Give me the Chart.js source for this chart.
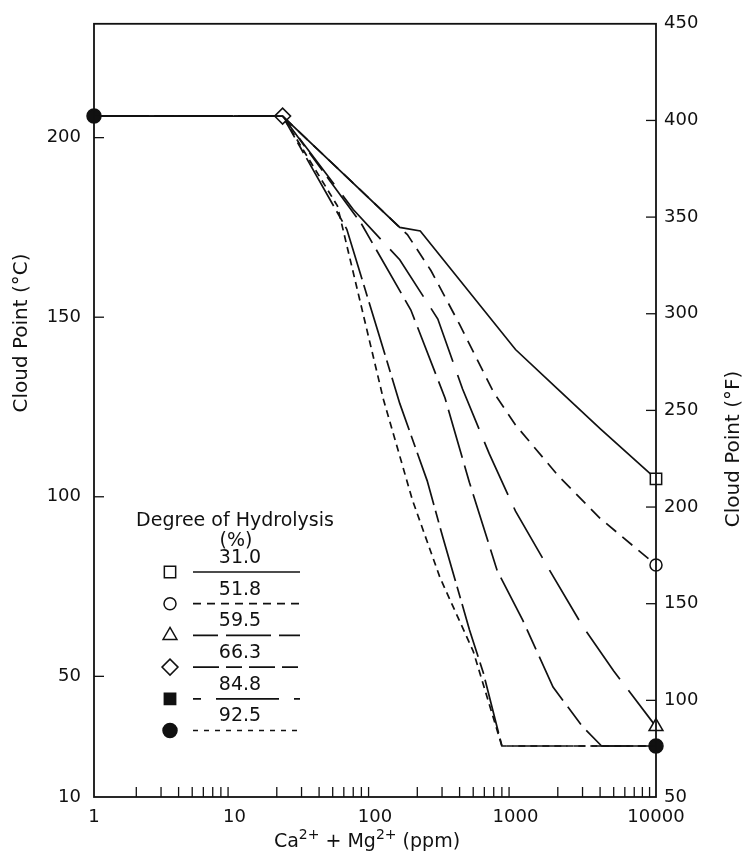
<!DOCTYPE html>
<html><head><meta charset="utf-8">
<script src="https://cdn.jsdelivr.net/npm/chart.js@4.4.1/dist/chart.umd.min.js"></script>
<style>html,body{margin:0;padding:0;background:#fff;}canvas{display:block;}</style>
</head><body>
<canvas id="c" width="747" height="857" style="width:747px;height:857px"></canvas>
<script>
// ---- data (x: Ca2+ + Mg2+ ppm, y: cloud point °C) ----
const hydrolysisLabels = ['31.0', '51.8', '59.5', '66.3', '84.8', '92.5'];

const ppm31 = [1, 22, 150, 210, 1000, 2000, 4000, 10000];
const cp31  = [206, 206, 175, 174, 141, 130, 119, 105];

const ppm52 = [1, 22, 170, 250, 400, 700, 1000, 2000, 4000, 10000];
const cp52  = [206, 206, 173, 163, 148, 129, 120, 106, 94, 81];

const ppm60 = [1, 22, 70, 150, 280, 420, 650, 1000, 1750, 3000, 5000, 10000];
const cp60  = [206, 206, 180, 166, 149.5, 130, 112, 96, 79.5, 64, 51.5, 36];

const ppm66 = [1, 22, 80, 180, 315, 470, 740, 1130, 1850, 3000, 4100, 10000];
const cp66  = [206, 206, 176, 152, 127.5, 104, 79.5, 65.5, 47, 36, 30.6, 30.6];

const ppm85 = [1, 22, 63, 105, 150, 235, 305, 470, 590, 800, 10000];
const cp85  = [206, 206, 174.5, 146, 126, 104.5, 88.5, 63, 51, 30.6, 30.6];

const ppm93 = [1, 22, 54, 115, 185, 290, 500, 800, 10000];
const cp93  = [206, 206, 181, 127, 99, 77.5, 57, 30.6, 30.6];

const xTickLabels = [1, 10, 100, 1000, 10000];
const cTickLabels = [10, 50, 100, 150, 200];
const fTickLabels = [50, 100, 150, 200, 250, 300, 350, 400, 450];

// ---- styling ----
const FONT = "'DejaVu Sans', 'Liberation Sans', sans-serif";
const INK = '#111';
const C_MIN = 16.4, C_MAX = 231.7;

const series = [
  {label: hydrolysisLabels[0], x: ppm31, y: cp31, dash: [], legendDash: [], style: 'rect', r: 8, filled: false, marks: [ppm31.length - 1]},
  {label: hydrolysisLabels[1], x: ppm52, y: cp52, dash: [13, 8], legendDash: [8, 6], style: 'circle', r: 6, filled: false, marks: [ppm52.length - 1]},
  {label: hydrolysisLabels[2], x: ppm60, y: cp60, dash: [58, 14], legendDash: [25, 8, 45, 8, 25], style: 'triangle', r: 8, filled: false, marks: [ppm60.length - 1]},
  {label: hydrolysisLabels[3], x: ppm66, y: cp66, dash: [50, 8, 22, 8], legendDash: [26, 7, 16, 7], style: 'rectRot', r: 8, filled: false, marks: [1]},
  {label: hydrolysisLabels[4], x: ppm85, y: cp85, dash: [55, 6, 12, 6], legendDash: [8, 15, 63, 15, 8], style: 'rect', r: 8, filled: true, marks: []},
  {label: hydrolysisLabels[5], x: ppm93, y: cp93, dash: [7, 5], legendDash: [5, 6], style: 'circle', r: 7, filled: true, marks: [0, ppm93.length - 1]}
];

const datasets = series.map(s => ({
  label: s.label,
  data: s.x.map((v, i) => ({x: v, y: s.y[i]})),
  borderColor: INK,
  borderWidth: 1.7,
  borderDash: s.dash,
  tension: 0,
  showLine: true,
  fill: false,
  clip: false,
  pointStyle: s.style,
  pointRadius: s.x.map((v, i) => s.marks.includes(i) ? s.r : 0),
  pointBorderWidth: 1.5,
  pointBorderColor: INK,
  pointBackgroundColor: s.filled ? INK : '#fff'
}));

function line(ctx, x0, y0, x1, y1) { ctx.beginPath(); ctx.moveTo(x0, y0); ctx.lineTo(x1, y1); ctx.stroke(); }

const decor = {
  id: 'decor',
  beforeDraw(chart) {
    const ctx = chart.ctx;
    ctx.save(); ctx.fillStyle = '#fff'; ctx.fillRect(0, 0, chart.width, chart.height); ctx.restore();
  },
  afterDatasetsDraw(chart) {
    const {ctx, chartArea: a, scales: {x, y, y2}} = chart;
    ctx.save();
    ctx.strokeStyle = INK; ctx.setLineDash([]);
    ctx.lineWidth = 1.8;
    ctx.strokeRect(a.left, a.top, a.right - a.left, a.bottom - a.top);
    ctx.lineWidth = 1.3;
    for (let k = 0; k < 4; k++) {
      for (let m = 2; m <= 9; m++) {
        const px = x.getPixelForValue(m * Math.pow(10, k));
        line(ctx, px, a.bottom, px, a.bottom - 10);
      }
    }
    cTickLabels.slice(1).forEach(v => { const py = y.getPixelForValue(v); line(ctx, a.left, py, a.left + 10, py); });
    fTickLabels.slice(1, -1).forEach(v => { const py = y2.getPixelForValue(v); line(ctx, a.right - 10, py, a.right, py); });
    ctx.restore();
  },
  afterDraw(chart) {
    const {ctx} = chart;
    ctx.save();
    ctx.fillStyle = INK; ctx.strokeStyle = INK;
    ctx.font = `20px ${FONT}`;
    ctx.textAlign = 'center'; ctx.textBaseline = 'middle';
    ctx.save(); ctx.translate(22, 333); ctx.rotate(-Math.PI / 2); ctx.fillText('Cloud Point (°C)', 0, 0); ctx.restore();
    ctx.save(); ctx.translate(734, 449); ctx.rotate(-Math.PI / 2); ctx.fillText('Cloud Point (°F)', 0, 0); ctx.restore();
    const parts = [['Ca', 0], ['2+', 1], [' + Mg', 0], ['2+', 1], [' (ppm)', 0]];
    const fontOf = sup => sup ? `14px ${FONT}` : `19px ${FONT}`;
    let total = 0;
    parts.forEach(([t, s]) => { ctx.font = fontOf(s); total += ctx.measureText(t).width; });
    let cx = 367 - total / 2;
    ctx.textAlign = 'left'; ctx.textBaseline = 'alphabetic';
    parts.forEach(([t, s]) => { ctx.font = fontOf(s); ctx.fillText(t, cx, s ? 839 : 847); cx += ctx.measureText(t).width; });
    ctx.font = `19px ${FONT}`;
    ctx.textAlign = 'center'; ctx.textBaseline = 'middle';
    ctx.fillText('Degree of Hydrolysis', 235, 521);
    ctx.fillText('(%)', 236, 541);
    series.forEach((s, i) => {
      const yy = 572 + i * 31.7;
      ctx.lineWidth = 1.7;
      ctx.setLineDash(s.legendDash);
      line(ctx, 193, yy, 300, yy);
      ctx.setLineDash([]);
      ctx.fillText(s.label, 240, yy - 14);
      ctx.fillStyle = s.filled ? INK : '#fff';
      ctx.lineWidth = 1.5;
      Chart.helpers.drawPoint(ctx, {pointStyle: s.style, radius: s.r, borderWidth: 1.5, rotation: 0}, 170, yy);
      ctx.fillStyle = INK;
    });
    ctx.restore();
  }
};

Chart.defaults.font.family = FONT;
Chart.defaults.font.size = 18;
Chart.defaults.color = INK;

new Chart(document.getElementById('c'), {
  type: 'scatter',
  data: {datasets},
  options: {
    responsive: false,
    animation: false,
    layout: {padding: {top: 22, left: 0, right: 0, bottom: 0}},
    plugins: {legend: {display: false}, tooltip: {enabled: false}},
    scales: {
      x: {
        type: 'logarithmic', position: 'bottom', min: 1, max: 10000,
        grid: {display: false, drawTicks: false}, border: {display: false},
        afterBuildTicks: s => { s.ticks = xTickLabels.map(v => ({value: v})); },
        afterFit: s => { s.height = 60; },
        ticks: {callback: v => String(v), padding: 10, maxRotation: 0, autoSkip: false, color: INK}
      },
      y: {
        type: 'linear', position: 'left', min: C_MIN, max: C_MAX,
        grid: {display: false, drawTicks: false}, border: {display: false},
        afterBuildTicks: s => { s.ticks = cTickLabels.map(v => ({value: Math.max(v, C_MIN)})); },
        afterFit: s => { s.width = 94; },
        ticks: {callback: (v, i) => String(cTickLabels[i]), padding: 13, autoSkip: false, color: INK}
      },
      y2: {
        type: 'linear', position: 'right', min: 50, max: 450,
        grid: {display: false, drawTicks: false}, border: {display: false},
        afterBuildTicks: s => { s.ticks = fTickLabels.map(v => ({value: v})); },
        afterFit: s => { s.width = 91; },
        ticks: {callback: v => String(v), padding: 8, autoSkip: false, color: INK}
      }
    }
  },
  plugins: [decor]
});
</script>
</body></html>
